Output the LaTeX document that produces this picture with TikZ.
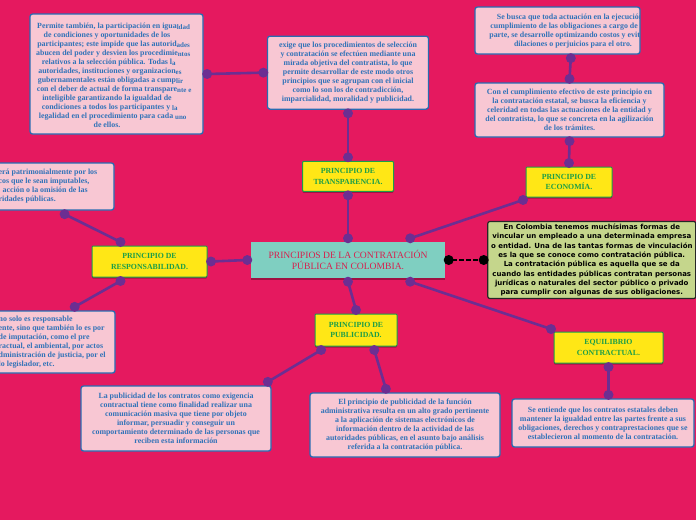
\documentclass[tikz,border=0pt]{standalone}
\usepackage{fontspec}
\setmainfont{Liberation Serif}
\newfontfamily\introfont{DejaVu Sans}
\usetikzlibrary{positioning,calc,shadows}
\definecolor{bgpink}{RGB}{229,25,95}
\definecolor{cardpink}{RGB}{248,199,211}
\definecolor{cardblue}{RGB}{40,108,178}
\definecolor{cardink}{RGB}{48,114,184}
\definecolor{capyellow}{RGB}{255,231,22}
\definecolor{capgreen}{RGB}{28,158,72}
\definecolor{topicteal}{RGB}{127,207,193}
\definecolor{topicred}{RGB}{214,32,78}
\definecolor{introolive}{RGB}{197,214,140}
\definecolor{linkpurple}{RGB}{108,46,146}
\newcommand\cardsize{\fontsize{7.9}{9}\selectfont\bfseries}
\newcommand\capsize{\fontsize{7.8}{10.5}\selectfont\bfseries}
\newcommand\topicsize{\fontsize{9.6}{11}\selectfont}
\newcommand\introsize{\introfont\fontsize{7}{9.3}\selectfont\bfseries}
\newcommand\spill[1]{\rlap{\raisebox{-1.2pt}{\fontsize{7}{7}\selectfont #1}}}

\begin{document}
\begin{tikzpicture}[x=1pt, y=-1pt,
  card/.style={rectangle, rounded corners=2.5pt, draw=cardblue, line width=1.3pt, fill=cardpink, inner sep=0pt},
  cardtext/.style={align=center, text=cardink, font=\cardsize, inner sep=0pt},
  note/.style={card, cardtext},
  principle/.style={rectangle, rounded corners=1pt, draw=capgreen, line width=1pt, fill=capyellow, text=capgreen, align=center, font=\capsize, inner sep=0pt, drop shadow={shadow xshift=0pt, shadow yshift=-1.5pt, fill=black, opacity=0.3}},
  topic/.style={rectangle, fill=topicteal, text=topicred, align=center, font=\topicsize, inner sep=0pt, drop shadow={shadow xshift=0pt, shadow yshift=-1.5pt, fill=black, opacity=0.3}},
  intro/.style={rectangle, rounded corners=2pt, draw=black!85, line width=1.2pt, fill=introolive, text=black, align=center, font=\introsize, inner sep=0pt},
  dot/.style={circle, fill=linkpurple, inner sep=0pt, minimum size=10pt, outer sep=-1.5pt},
  blackdot/.style={dot, fill=black},
  link/.style={draw=linkpurple, line width=2.6pt},
  blacklink/.style={draw=black, line width=2.6pt, dash pattern=on 5pt off 2pt}
]
\useasboundingbox (0,0) rectangle (696,520);
\fill[bgpink] (0,0) rectangle (696,520);
\clip (0,0) rectangle (696,520);

% centre and principles
\node[topic, minimum width=194, minimum height=36] (central) at (348,260) {PRINCIPIOS DE LA CONTRATACIÓN\\PÚBLICA EN COLOMBIA.};
\node[principle, minimum width=91, minimum height=30, above=50pt of central] (transp) {PRINCIPIO DE\\TRANSPARENCIA.};
\node[principle, minimum width=86, minimum height=30] (econ) at (569,182) {PRINCIPIO DE\\ECONOMÍA.};
\node[principle, minimum width=115, minimum height=31] (resp) at (149.5,261.5) {PRINCIPIO DE\\RESPONSABILIDAD.};
\node[principle, minimum width=82, minimum height=32] (publ) at (356,330) {PRINCIPIO DE\\PUBLICIDAD.};
\node[principle, minimum width=109, minimum height=31] (equil) at (608.5,347.5) {EQUILIBRIO\\CONTRACTUAL.};

% explanations
\node[note, minimum width=161, minimum height=73, above=51pt of transp] (topc) {exige que los procedimientos de selección\\y contratación se efectúen mediante una\\mirada objetiva del contratista, lo que\\permite desarrollar de este modo otros\\principios que se agrupan con el inicial\\como lo son los de contradicción,\\imparcialidad, moralidad y publicidad.};

\node[card, minimum width=173, minimum height=120] (topleft) at (116.5,74) {};
\node[cardtext] (topleft-txt) at (107,75) {Permite también, la participación en igua\spill{ldad}\\de condiciones y oportunidades de los\\participantes; este impide que las autorid\spill{ades}\\abucen del poder y desvien los procedimie\spill{ntos}\\relativos a la selección pública. Todas l\spill{a}\\autoridades, instituciones y organizacion\spill{es}\\gubernamentales están obligadas a cump\spill{lir}\\con el deber de actual de forma transpare\spill{nte e}\\inteligible garantizando la igualdad de\\condiciones a todos los participantes y \spill{la}\\legalidad en el procedimiento para cada \spill{uno}\\de ellos.};

\node[card, minimum width=165, minimum height=47] (trbox) at (557.5,30.5) {};
\begin{scope}
  \clip ($(trbox.south west)+(1,-1)$) rectangle ($(trbox.north east)+(-1,1)$);
  \node[cardtext] (trbox-txt) at (573,31) {Se busca que toda actuación en la ejecución y\\cumplimiento de las obligaciones a cargo de cada\\parte, se desarrolle optimizando costos y evitando\\dilaciones o perjuicios para el otro.};
\end{scope}

\node[note, minimum width=189, minimum height=54] (rbox) at (569.5,110) {Con el cumplimiento efectivo de este principio en\\la contratación estatal, se busca la eficiencia y\\celeridad en todas las actuaciones de la entidad y\\del contratista, lo que se concreta en la agilización\\de los trámites.};

\node[intro, minimum width=208, minimum height=77, right=42pt of central] (intro) {En Colombia tenemos muchísimas formas de\\vincular un empleado a una determinada empresa\\o entidad. Una de las tantas formas de vinculación\\es la que se conoce como contratación pública.\\La contratación pública es aquella que se da\\cuando las entidades públicas contratan personas\\jurídicas o naturales del sector público o privado\\para cumplir con algunas de sus obligaciones.};

\node[card, minimum width=184, minimum height=47] (lefttop) at (22,186.5) {};
\node[cardtext, align=left, anchor=west] (lefttop-txt) at (-1.5,186.5) {erá patrimonialmente por los\\cos que le sean imputables,\\\hspace*{4pt}acción o la omisión de las\\ridades públicas.};

\node[card, minimum width=185, minimum height=62] (leftbot) at (22.5,342) {};
\node[cardtext, align=left, anchor=west] (leftbot-txt) at (-1.5,342) {no solo es responsable\\ente, sino que también lo es por\\de imputación, como el pre\\ractual, el ambiental, por actos\\dministración de justicia, por el\\lo legislador, etc.};

\node[note, minimum width=190, minimum height=65] (blbox) at (176,418.5) {La publicidad de los contratos como exigencia\\contractual tiene como finalidad realizar una\\comunicación masiva que tiene por objeto\\informar, persuadir y conseguir un\\comportamiento determinado de las personas que\\reciben esta información};
\node[note, minimum width=190, minimum height=64] (bcbox) at (405,425) {El principio de publicidad de la función\\administrativa resulta en un alto grado pertinente\\a la aplicación de sistemas electrónicos de\\información dentro de la actividad de las\\autoridades públicas, en el asunto bajo análisis\\referida a la contratación pública.};
\node[note, minimum width=182, minimum height=48] (brbox) at (603,423) {Se entiende que los contratos estatales deben\\mantener la igualdad entre las partes frente a sus\\obligaciones, derechos y contraprestaciones que se\\establecieron al momento de la contratación.};

% link ends
\node[dot, anchor=south] (c1) at (central.north) {};
\node[dot, anchor=north] (t1) at (transp.south) {};
\node[dot, anchor=south] (t2) at (transp.north) {};
\node[dot, anchor=north] (s1) at (topc.south) {};
\node[dot, anchor=east] (s2) at (topc.west) {};
\node[dot, anchor=west] (l1) at (topleft.east) {};
\node[dot, anchor=south] (c2) at ($(central.north west)!0.82!(central.north east)$) {};
\node[dot, anchor=north east] (e1) at (econ.south west) {};
\node[dot, anchor=south] (e2) at (econ.north) {};
\node[dot, anchor=north] (r1) at (rbox.south) {};
\node[dot, anchor=south] (r2) at (rbox.north) {};
\node[dot, anchor=north] (q1) at ($(trbox.south west)!0.58!(trbox.south east)$) {};
\node[blackdot, anchor=west] (c3) at (central.east) {};
\node[blackdot, anchor=east] (i1) at (intro.west) {};
\node[dot, anchor=east] (c4) at (central.west) {};
\node[dot, anchor=west] (p1) at (resp.east) {};
\node[dot, anchor=south] (p2) at ($(resp.north west)!0.25!(resp.north east)$) {};
\node[dot, anchor=north] (h1) at ($(lefttop.south west)!0.73!(lefttop.south east)$) {};
\node[dot, anchor=north] (p3) at ($(resp.south west)!0.25!(resp.south east)$) {};
\node[dot, anchor=south] (h2) at ($(leftbot.north west)!0.78!(leftbot.north east)$) {};
\node[dot, anchor=north] (c5) at (central.south) {};
\node[dot, anchor=south] (u1) at (publ.north) {};
\node[dot, anchor=north] (c6) at ($(central.south west)!0.82!(central.south east)$) {};
\node[dot, anchor=south east] (k1) at (equil.north west) {};
\node[dot, anchor=north] (u2) at ($(publ.south west)!0.08!(publ.south east)$) {};
\node[dot, anchor=south] (b1) at ($(blbox.north west)!0.98!(blbox.north east)$) {};
\node[dot, anchor=north] (u3) at ($(publ.south west)!0.72!(publ.south east)$) {};
\node[dot, anchor=south] (b2) at ($(bcbox.north west)!0.4!(bcbox.north east)$) {};
\node[dot, anchor=north] (k2) at (equil.south) {};
\node[dot, anchor=south] (b3) at ($(brbox.north west)!0.53!(brbox.north east)$) {};

\draw[link] (c1) -- (t1);
\draw[link] (t2) -- (s1);
\draw[link] (s2) -- (l1);
\draw[link] (c2) -- (e1);
\draw[link] (e2) -- (r1);
\draw[link] (r2) -- (q1);
\draw[blacklink] (c3) -- (i1);
\draw[link] (c4) -- (p1);
\draw[link] (p2) -- (h1);
\draw[link] (p3) -- (h2);
\draw[link] (c5) -- (u1);
\draw[link] (c6) -- (k1);
\draw[link] (u2) -- (b1);
\draw[link] (u3) -- (b2);
\draw[link] (k2) -- (b3);
\end{tikzpicture}
\end{document}
